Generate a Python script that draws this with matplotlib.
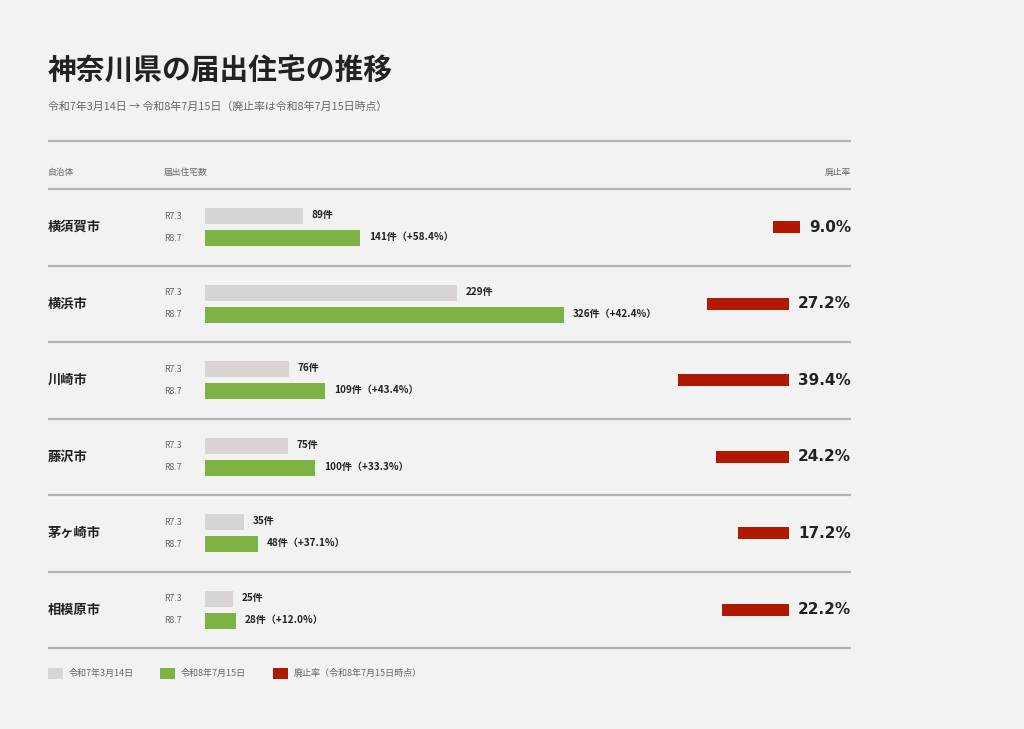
import numpy as np
import matplotlib
matplotlib.use("Agg")
import matplotlib.pyplot as plt

plt.rcParams['font.family'] = ['Noto Sans CJK JP', 'DejaVu Sans']

# data
cities = ['横須賀市', '横浜市', '川崎市', '藤沢市', '茅ヶ崎市', '相模原市']
count_r73 = [89, 229, 76, 75, 35, 25]
count_r87 = [141, 326, 109, 100, 48, 28]
abolish_rate = [9.0, 27.2, 39.4, 24.2, 17.2, 22.2]
period_labels = ['R7.3', 'R8.7']
legend_labels = ['令和7年3月14日', '令和8年7月15日', '廃止率（令和8年7月15日時点）']

title = '神奈川県の届出住宅の推移'
subtitle = '令和7年3月14日 → 令和8年7月15日（廃止率は令和8年7月15日時点）'

BG = '#f2f2f2'
C_OLD = '#d8d4d3'
C_NEW = '#7cb342'
C_RATE = '#b01800'
C_LINE = '#b3b3b3'
C_TEXT = '#222222'
C_SUB = '#666666'

W, H = 1024, 729
PX_PER_CASE = 1.1
PX_PER_PCT = 3.0
MAX_RATE_BAR = 111   # rate bars look capped at this width
LEFT, RIGHT = 48, 851
BAR_X0 = 205
ROW_TOP = 189
ROW_H = 76.5

fig = plt.figure(figsize=(W / 100, H / 100), dpi=100, facecolor=BG)
ax = fig.add_axes([0, 0, 1, 1])
ax.set_xlim(0, W)
ax.set_ylim(H, 0)
ax.axis('off')

ax.text(LEFT, 70, title, fontsize=20.7, fontweight='bold', color=C_TEXT, va='center')
ax.text(LEFT, 107, subtitle, fontsize=7.85, color=C_SUB, va='center')

ax.hlines(141, LEFT, RIGHT, color=C_LINE, lw=1.6)
ax.text(LEFT, 172, '自治体', fontsize=6.3, color=C_SUB, va='center')
ax.text(164, 172, '届出住宅数', fontsize=6.3, color=C_SUB, va='center')
ax.text(RIGHT, 172, '廃止率', fontsize=6.3, color=C_SUB, va='center', ha='right')
ax.hlines(ROW_TOP, LEFT, RIGHT, color=C_LINE, lw=1.6)

rate_texts = []
for i, city in enumerate(cities):
    yc = ROW_TOP + ROW_H * (i + 0.5)
    y_old, y_new = yc - 11, yc + 11
    ax.text(LEFT, yc, city, fontsize=9.5, fontweight='bold', color=C_TEXT, va='center')
    ax.text(164, y_old, period_labels[0], fontsize=6.3, color=C_SUB, va='center')
    ax.text(164, y_new, period_labels[1], fontsize=6.3, color=C_SUB, va='center')

    w_old = count_r73[i] * PX_PER_CASE
    w_new = count_r87[i] * PX_PER_CASE
    ax.barh(y_old, w_old, left=BAR_X0, height=16, color=C_OLD)
    ax.barh(y_new, w_new, left=BAR_X0, height=16, color=C_NEW)
    growth = (count_r87[i] / count_r73[i] - 1) * 100
    ax.text(BAR_X0 + w_old + 9, y_old - 1, f'{count_r73[i]}件', fontsize=7.2, fontweight='bold',
            color=C_TEXT, va='center')
    ax.text(BAR_X0 + w_new + 9, y_new - 1, f'{count_r87[i]}件（+{growth:.1f}%）', fontsize=7.2,
            fontweight='bold', color=C_TEXT, va='center')

    t = ax.text(RIGHT, yc, f'{abolish_rate[i]:.1f}%', fontsize=11, fontweight='bold',
                color=C_TEXT, va='center', ha='right', family=['DejaVu Sans'])
    rate_texts.append((t, yc))

    ax.hlines(ROW_TOP + ROW_H * (i + 1), LEFT, RIGHT, color=C_LINE, lw=1.6)

# rate bars end just left of their labels
fig.canvas.draw()
renderer = fig.canvas.get_renderer()
for i, (t, yc) in enumerate(rate_texts):
    bb = t.get_window_extent(renderer)
    x_end = ax.transData.inverted().transform((bb.x0, 0))[0] - 9
    w = min(abolish_rate[i] * PX_PER_PCT, MAX_RATE_BAR)
    ax.barh(yc, w, left=x_end - w, height=12, color=C_RATE)

# legend
leg_x = [48, 160, 273]
leg_c = [C_OLD, C_NEW, C_RATE]
for x, c, lab in zip(leg_x, leg_c, legend_labels):
    ax.barh(673.5, 15, left=x, height=11, color=c)
    ax.text(x + 21, 673.5, lab, fontsize=6.5, color=C_SUB, va='center')

fig.savefig('out.png', dpi=100, facecolor=BG)
